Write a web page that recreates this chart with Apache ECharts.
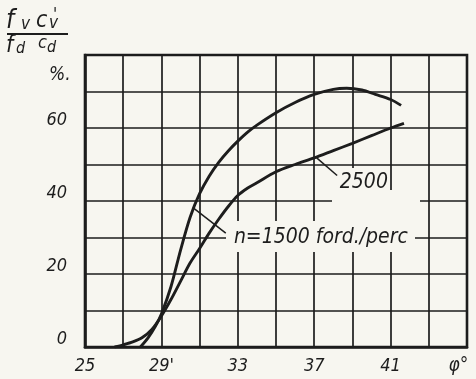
<!DOCTYPE html>
<html>
<head>
<meta charset="utf-8">
<script src="https://cdn.jsdelivr.net/npm/echarts@6/dist/echarts.min.js"></script>
<style>
  html, body { margin: 0; padding: 0; background: #f7f6f0; }
  #chart { width: 476px; height: 379px; }
</style>
</head>
<body>
<div id="chart"></div>
<script>
// Crank angle (degrees) and charge ratio (%) for two engine speeds
const angle1500 = [27.9, 28.3, 28.7, 29.0, 29.5, 30.0, 30.5, 31.0, 31.5, 32.0, 32.5, 33.0, 33.5, 34.0, 35.0, 36.0, 37.0, 38.0, 38.7, 39.5, 40.2, 41.0, 41.55];
const ratio1500 = [0, 2.5, 5.8, 9.0, 16.5, 26.5, 35.5, 42.0, 46.8, 50.6, 53.7, 56.4, 58.8, 60.8, 64.2, 67.0, 69.2, 70.6, 70.9, 70.4, 69.2, 67.8, 66.2];

const angle2500 = [26.55, 27.0, 27.5, 28.0, 28.5, 29.0, 29.5, 30.0, 30.5, 31.0, 31.5, 32.0, 32.5, 33.0, 33.5, 34.0, 35.0, 36.0, 37.0, 38.0, 39.0, 40.0, 41.0, 41.7];
const ratio2500 = [0, 0.6, 1.4, 2.6, 4.8, 8.5, 13.0, 18.0, 23.0, 27.0, 31.2, 35.0, 38.5, 41.5, 43.5, 45.0, 48.0, 50.0, 51.8, 53.8, 55.8, 57.9, 60.0, 61.3];

// Tick labels
const xTickValues = [25, 29, 33, 37, 41, 45];
const xTickLabels = ['25', "29'", '33', '37', '41', 'φ°'];
const yTickValues = [0, 20, 40, 60];
const yTickLabels = ['0', '20', '40', '60'];

const paper = '#f7f6f0';
const ink = '#1d1d1d';
const font = 'DejaVu Sans Condensed';
const X0 = 25;

function pairs(xs, ys) { return xs.map((x, i) => [x, ys[i]]); }

function txt(left, top, text, size) {
  return { type: 'text', z: 5, left: left, top: top,
    style: { text: text, fill: ink, fontSize: size, fontStyle: 'italic', fontFamily: font } };
}

const chart = echarts.init(document.getElementById('chart'), null, { renderer: 'canvas' });

chart.setOption({
  animation: false,
  backgroundColor: paper,
  grid: { left: 85, right: 9, top: 55, bottom: 32, show: true, borderColor: ink, borderWidth: 2.6 },
  xAxis: [
    { type: 'value', min: 25, max: 45, show: false, position: 'top' },
    {
      // degrees counted from 25, so grid lines fall on 25, 27, ... 45
      type: 'value', min: 0, max: 20, interval: 2, position: 'bottom',
      axisLine: { show: true, lineStyle: { color: ink, width: 2.6 } },
      axisTick: { show: false },
      splitLine: { show: true, lineStyle: { color: ink, width: 1.7 } },
      axisLabel: {
        color: ink, fontSize: 18, fontStyle: 'italic', fontFamily: font,
        margin: 10,
        formatter: v => {
          const i = xTickValues.indexOf(v + X0);
          if (i < 0) return '';
          return i === xTickValues.length - 1 ? '{phi|' + xTickLabels[i] + '}' : xTickLabels[i];
        },
        rich: { phi: { fontSize: 19, fontStyle: 'italic', fontFamily: font, color: ink, padding: [0, 17, 0, 0] } }
      }
    }
  ],
  yAxis: {
    type: 'value', min: 0, max: 80, interval: 10,
    axisLine: { show: true, lineStyle: { color: ink, width: 2.6 } },
    axisTick: { show: false },
    splitLine: { show: true, lineStyle: { color: ink, width: 1.7 } },
    axisLabel: {
      color: ink, fontSize: 18, fontStyle: 'italic', fontFamily: font,
      margin: 18,
      verticalAlign: 'bottom',
      lineHeight: 16,
      formatter: v => {
        const i = yTickValues.indexOf(v);
        return i < 0 ? '' : yTickLabels[i];
      }
    }
  },
  graphic: [
    // cleared paper behind the curve labels
    { type: 'rect', z: 1, shape: { x: 332, y: 168, width: 52, height: 66 }, style: { fill: paper } },
    { type: 'rect', z: 1, shape: { x: 382, y: 190, width: 38, height: 44 }, style: { fill: paper } },
    { type: 'rect', z: 1, shape: { x: 226, y: 221, width: 189, height: 31 }, style: { fill: paper } },
    // axis title: fv c'v / fd cd
    txt(6, 8, 'f', 26),
    txt(21, 16, 'v', 17),
    txt(36, 10, 'c', 23),
    txt(53, 7, "'", 17),
    txt(49, 15, 'v', 17),
    { type: 'line', z: 5, shape: { x1: 7, y1: 34, x2: 68, y2: 34 }, style: { stroke: ink, lineWidth: 2.2 } },
    txt(6, 35, 'f', 23),
    txt(16, 41, 'd', 16),
    txt(38, 34, 'c', 18),
    txt(47, 40, 'd', 16),
    txt(49, 66, '%.', 19)
  ],
  series: [
    {
      name: 'n=1500', type: 'line', xAxisIndex: 0, data: pairs(angle1500, ratio1500),
      smooth: 0.3, showSymbol: false, symbol: 'none',
      lineStyle: { color: ink, width: 2.9 },
      markLine: {
        silent: true, symbol: ['none', 'none'], label: { show: false },
        lineStyle: { color: ink, width: 1.5, type: 'solid' },
        data: [[{ coord: [30.65, 38.2] }, { coord: [32.37, 31.2] }]]
      },
      markPoint: {
        symbol: 'rect', symbolSize: 1, itemStyle: { color: 'rgba(0,0,0,0)' },
        label: { show: true, position: 'inside', formatter: 'n=1500 ford./perc', color: ink, fontSize: 21, fontStyle: 'italic', fontFamily: font },
        data: [{ coord: [37.35, 30.0] }]
      }
    },
    {
      name: 'n=2500', type: 'line', xAxisIndex: 0, data: pairs(angle2500, ratio2500),
      smooth: 0.3, showSymbol: false, symbol: 'none',
      lineStyle: { color: ink, width: 2.9 },
      markLine: {
        silent: true, symbol: ['none', 'none'], label: { show: false },
        lineStyle: { color: ink, width: 1.5, type: 'solid' },
        data: [[{ coord: [37.13, 51.8] }, { coord: [38.2, 47.0] }]]
      },
      markPoint: {
        symbol: 'rect', symbolSize: 1, itemStyle: { color: 'rgba(0,0,0,0)' },
        label: { show: true, position: 'inside', formatter: '2500', color: ink, fontSize: 21, fontStyle: 'italic', fontFamily: font },
        data: [{ coord: [39.6, 45.0] }]
      }
    }
  ]
});
</script>
</body>
</html>
